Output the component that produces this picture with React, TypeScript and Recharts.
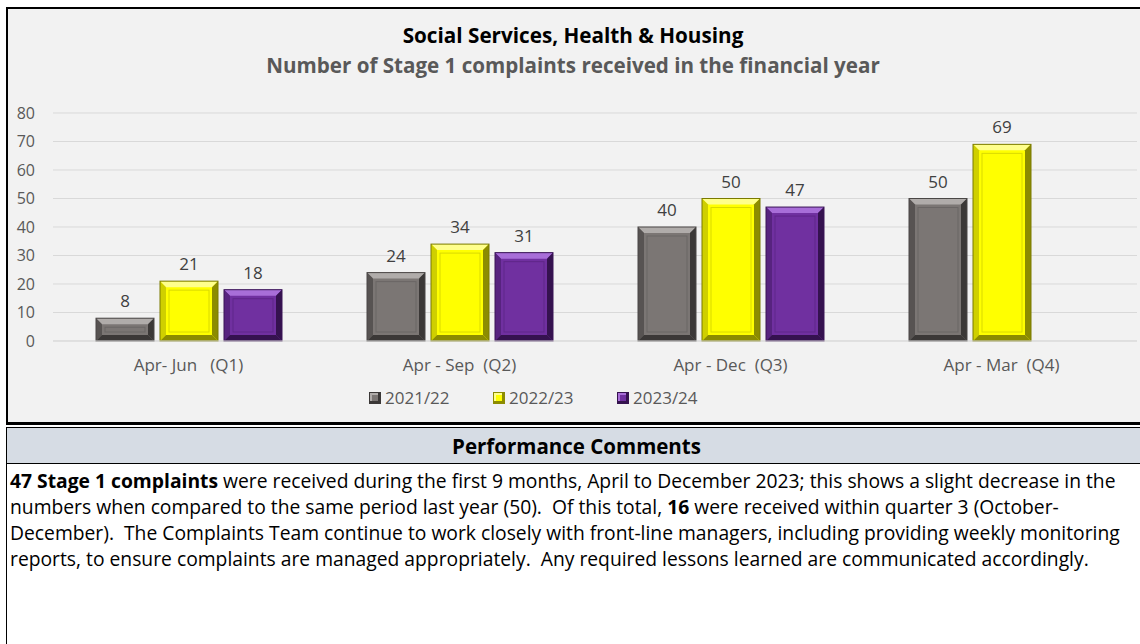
import React from "react";
import {
  BarChart,
  Bar,
  XAxis,
  YAxis,
  CartesianGrid,
  LabelList,
} from "recharts";

const quarters = [
  "Apr- Jun   (Q1)",
  "Apr - Sep  (Q2)",
  "Apr - Dec  (Q3)",
  "Apr - Mar  (Q4)",
];
const y2122 = [8, 24, 40, 50];
const y2223 = [21, 34, 50, 69];
const y2324: (number | null)[] = [18, 31, 47, null];
const yTicks = [0, 10, 20, 30, 40, 50, 60, 70, 80];

const seriesNames = ["2021/22", "2022/23", "2023/24"];

const data = quarters.map((q, i) => ({
  quarter: q,
  a: y2122[i],
  b: y2223[i],
  c: y2324[i],
}));

interface Palette {
  base: string;
  light: string;
  side: string;
  dark: string;
  edge: string;
  inner: string;
}

const palettes: Palette[] = [
  { base: "#7B7674", light: "#B0ACAA", side: "#575352", dark: "#3B3837", edge: "#4A4746", inner: "#6A6665" },
  { base: "#FFFF00", light: "#FFFF8C", side: "#CFCF00", dark: "#8C8C00", edge: "#7A7A00", inner: "#DADA00" },
  { base: "#7030A0", light: "#A86ED8", side: "#57237F", dark: "#35124F", edge: "#3A1456", inner: "#5F2689" },
];

const font = "'Open Sans', Lato, sans-serif";

// bevelled bar like the Excel 3D "cool slant" preset
const bevelShape = (p: Palette) => (props: any) => {
  const { x, y, width: w, height: h } = props;
  if (h == null || h <= 0 || w <= 0) return <g />;
  const b = Math.min(6, h / 3, w / 4);
  return (
    <g>
      <rect x={x} y={y} width={w} height={h} fill={p.base} />
      <polygon points={`${x},${y} ${x + w},${y} ${x + w - b},${y + b} ${x + b},${y + b}`} fill={p.light} />
      <polygon points={`${x},${y} ${x + b},${y + b} ${x + b},${y + h - b} ${x},${y + h}`} fill={p.side} />
      <polygon points={`${x + w},${y} ${x + w},${y + h} ${x + w - b},${y + h - b} ${x + w - b},${y + b}`} fill={p.dark} />
      <polygon points={`${x},${y + h} ${x + w},${y + h} ${x + w - b},${y + h - b} ${x + b},${y + h - b}`} fill={p.dark} />
      {h > 3 * b + 4 && (
        <rect x={x + b + 3} y={y + b + 3} width={w - 2 * b - 6} height={h - 2 * b - 6} fill="none" stroke={p.inner} strokeWidth={1} />
      )}
      <rect x={x} y={y} width={w} height={h} fill="none" stroke={p.edge} strokeWidth={1} />
    </g>
  );
};

const XTick = (props: any) => {
  const { x, y, payload } = props;
  return (
    <text x={x} y={y} dy={22} textAnchor="middle" fill="#595959" fontSize={17} fontFamily={font} style={{ whiteSpace: "pre" }}>
      {payload.value}
    </text>
  );
};

const commentLines: React.ReactNode[] = [
  <>
    <b>47 Stage 1 complaints</b> were received during the first 9 months, April to December 2023; this shows a slight decrease in the
  </>,
  <>numbers when compared to the same period last year (50).&nbsp; Of this total, <b>16</b> were received within quarter 3 (October-</>,
  <>December).&nbsp; The Complaints Team continue to work closely with front-line managers, including providing weekly monitoring</>,
  <>reports, to ensure complaints are managed appropriately.&nbsp; Any required lessons learned are communicated accordingly.</>,
];

export default function App() {
  return (
    <div style={{ position: "absolute", left: 0, top: 0, width: 1140, height: 644, overflow: "hidden", background: "#fff", fontFamily: font }}>
      {/* chart panel */}
      <div style={{ position: "absolute", left: 6, top: 7, width: 1150, height: 413, border: "2px solid #000", background: "#F2F2F2" }} />
      <div style={{ position: "absolute", left: 0, width: 1146, top: 21, textAlign: "center", fontWeight: 700, fontSize: 20.7, color: "#000" }}>
        Social Services, Health &amp; Housing
      </div>
      <div style={{ position: "absolute", left: 0, width: 1146, top: 51, textAlign: "center", fontWeight: 700, fontSize: 20.6, color: "#595959" }}>
        Number of Stage 1 complaints received in the financial year
      </div>
      <div style={{ position: "absolute", left: 0, top: 0 }}>
        <BarChart
          width={1140}
          height={420}
          data={data}
          margin={{ top: 113, right: 3, bottom: 49, left: 8 }}
          barCategoryGap={43}
          barGap={6}
        >
          <CartesianGrid vertical={false} stroke="#D9D9D9" />
          <XAxis dataKey="quarter" axisLine={{ stroke: "#D9D9D9" }} tickLine={false} tick={<XTick />} height={30} interval={0} />
          <YAxis
            domain={[0, 80]}
            ticks={yTicks}
            interval={0}
            width={45}
            axisLine={false}
            tickLine={false}
            tickSize={0}
            tickMargin={18}
            tick={{ fill: "#595959", fontSize: 16, fontFamily: font }}
          />
          {(["a", "b", "c"] as const).map((k, i) => (
            <Bar key={k} dataKey={k} name={seriesNames[i]} isAnimationActive={false} shape={bevelShape(palettes[i])}>
              <LabelList dataKey={k} position="top" offset={11} fill="#404040" fontSize={17} fontFamily={font} />
            </Bar>
          ))}
        </BarChart>
      </div>
      {/* legend */}
      <div style={{ position: "absolute", left: 369, top: 386, display: "flex", fontSize: 17, color: "#595959" }}>
        {seriesNames.map((n, i) => (
          <div key={n} style={{ display: "flex", alignItems: "center", width: 124 }}>
            <div
              style={{
                width: 10,
                height: 10,
                background: palettes[i].base,
                border: `1px solid ${palettes[i].dark}`,
                boxShadow: `inset -2px -2px 0 ${palettes[i].dark}, inset 2px 2px 0 ${palettes[i].light}`,
                marginRight: 4,
              }}
            />
            <span>{n}</span>
          </div>
        ))}
      </div>
      {/* comments table */}
      <div style={{ position: "absolute", left: 6, top: 424, width: 1150, height: 4, borderTop: "1px solid #000" }} />
      <div
        style={{
          position: "absolute",
          left: 6,
          top: 427,
          width: 1150,
          height: 37,
          background: "#D6DCE4",
          borderTop: "1px solid #000",
          borderBottom: "1px solid #000",
          borderLeft: "1px solid #000",
          boxSizing: "border-box",
          textAlign: "center",
          fontWeight: 700,
          fontSize: 20.5,
          lineHeight: "36px",
          color: "#000",
        }}
      >
        <span style={{ marginLeft: -10 }}>Performance Comments</span>
      </div>
      <div style={{ position: "absolute", left: 6, top: 464, width: 1, height: 180, background: "#000" }} />
      <div style={{ position: "absolute", left: 10, top: 468, fontSize: 19.3, lineHeight: "26px", color: "#000" }}>
        {commentLines.map((l, i) => (
          <div key={i} style={{ whiteSpace: "nowrap" }}>
            {l}
          </div>
        ))}
      </div>
    </div>
  );
}
